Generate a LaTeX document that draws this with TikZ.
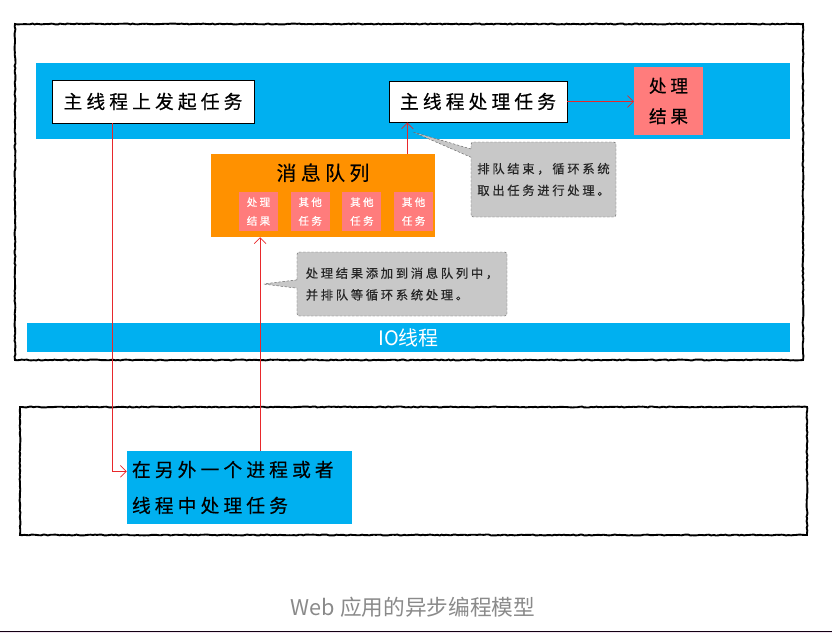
\documentclass[tikz,border=0pt]{standalone}
\usepackage{fontspec}
\newfontfamily\hand[LetterSpace=22, FakeBold=0.4]{Noto Sans CJK SC}
\newfontfamily\cjk{Noto Sans CJK SC}
\usetikzlibrary{arrows.meta, positioning, calc, shapes.callouts, decorations.pathmorphing}
\definecolor{bandblue}{HTML}{00B0F0}
\definecolor{queueorange}{HTML}{FF9100}
\definecolor{taskpink}{HTML}{FF7C7C}
\definecolor{notegray}{HTML}{C8C8C8}
\definecolor{flowred}{HTML}{E8282B}
\definecolor{captiongray}{HTML}{8A8A8A}

\begin{document}
\begin{tikzpicture}[x=0.03cm, y=-0.03cm,
  every node/.style={inner sep=0pt},
  frame/.style={draw=black, line width=1.6pt, decorate, decoration={random steps, segment length=2pt, amplitude=0.4pt}},
  taskbox/.style={draw=black, line width=0.8pt, fill=white, font=\hand\fontsize{16}{20}\selectfont},
  pinkbox/.style={fill=taskpink, text=white, align=center, minimum width=1.17cm, minimum height=1.17cm, font=\hand\fontsize{9}{16}\selectfont},
  note/.style={rectangle callout, fill=notegray, draw=gray!80!black, dash pattern=on 2pt off 1.5pt, rounded corners=2pt, align=left, text=black!85, font=\hand\fontsize{10.5}{18.5}\selectfont},
  flow/.style={draw=flowred, line width=0.6pt, -{Straight Barb[length=5pt, width=10pt]}}]
\useasboundingbox (0,0) rectangle (832,633);
% the two process frames
\draw[frame] (15,24) rectangle (803,360);
\draw[frame] (20,407) rectangle (807,535);
% main thread
\fill[bandblue] (36,63) rectangle (790,139);
\node[taskbox, minimum width=6.06cm, minimum height=1.29cm] (start) at (153,101.5) {主线程上发起任务};
\node[taskbox, minimum width=5.34cm, minimum height=1.23cm] (handle) at (478,101.5) {主线程处理任务};
\node[fill=taskpink, align=center, minimum width=2.07cm, minimum height=2.04cm, font=\hand\fontsize{15}{26}\selectfont] (result) at (668.5,101) {处理\\结果};
% message queue
\node[fill=queueorange, minimum width=6.72cm, minimum height=2.49cm] (queue) at (323,195.5) {};
\node[font=\hand\fontsize{17}{20}\selectfont] (qtitle) at ($(queue.north)+(0,19)$) {消息队列};
\foreach \i/\t in {0/处理\\结果, 1/其他\\任务, 2/其他\\任务, 3/其他\\任务}
  \node[pinkbox] (q\i) at (258.5+51.7*\i, 211.5) {\t};
% IO thread
\node[fill=bandblue, text=white, minimum width=22.89cm, minimum height=0.87cm, font=\cjk\fontsize{17}{20}\selectfont] (io) at (408.5,337.5) {IO线程};
% other process / thread
\node[fill=bandblue, minimum width=6.75cm, minimum height=2.19cm, text width=6.45cm, align=left, font=\hand\fontsize{16}{30.6}\selectfont] (remote) at (239.5,487.5) {在另外一个进程或者\\线程中处理任务};
% notes
\node[note, minimum width=4.35cm, minimum height=2.25cm, callout absolute pointer={(413,132)}] (note1) at (543.5,179.5) {排队结束，循环系统\\取出任务进行处理。};
\node[note, minimum width=6.3cm, minimum height=1.92cm, callout absolute pointer={(263,284)}] (note2) at (402,284) {处理结果添加到消息队列中，\\并排队等循环系统处理。};
% flow
\coordinate (down) at ($(start.south west)!0.3!(start.south east)$);
\coordinate (into) at ($(remote.north west)!0.28!(remote.south west)$);
\draw[flow] (down) |- (into);
\coordinate (back) at ($(queue.south west)!0.22!(queue.south east)$);
\draw[flow] (back |- remote.north) -- (back);
\coordinate (up) at ($(queue.north west)!0.876!(queue.north east)$);
\draw[flow] (up) -- (up |- handle.south);
\draw[flow] (handle.east) -- (handle.east -| result.west);
% caption
\node[text=captiongray, font=\cjk\fontsize{18.5}{22}\selectfont] (caption) at (413,607) {Web 应用的异步编程模型};
\fill[black!85!violet] (0,630.5) rectangle (832,632);
\fill[violet!10] (0,632) rectangle (832,633);
\end{tikzpicture}
\end{document}
